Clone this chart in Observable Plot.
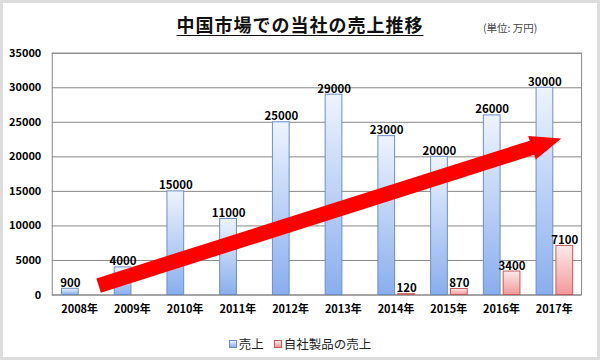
<!DOCTYPE html>
<html>
<head>
<meta charset="utf-8">
<script src="https://cdn.jsdelivr.net/npm/d3@7"></script>
<script src="https://cdn.jsdelivr.net/npm/@observablehq/plot@0.6"></script>
<style>
  html, body { margin: 0; padding: 0; background: #fff; }
  #wrap { position: relative; width: 600px; height: 360px; box-sizing: border-box; border: 3px solid #dcdcdc; overflow: hidden; font-family: "Noto Sans CJK JP", "Noto Sans", sans-serif; }
  #chart { position: absolute; left: -3px; top: -3px; }
  #title { position: absolute; left: -3px; width: 600px; top: 8px; text-align: center; font-size: 18px; font-weight: bold; letter-spacing: 1px; text-decoration: underline; text-underline-offset: 3px; color: #111; }
  #unit { position: absolute; left: 480px; top: 17px; font-size: 10.5px; color: #444; }
  #legend { position: absolute; left: -3px; width: 600px; top: 331px; text-align: center; font-size: 12.5px; color: #222; }
  .sw { display: inline-block; width: 6px; height: 6px; margin-right: 2px; vertical-align: 1px; }
  .item { margin: 0 5px; }
</style>
</head>
<body>
<div id="wrap">
  <div id="chart"></div>
  <div id="title">中国市場での当社の売上推移</div>
  <div id="unit">(単位: 万円)</div>
  <div id="legend"></div>
</div>
<script>
// ---- data ----
const years = ["2008年","2009年","2010年","2011年","2012年","2013年","2014年","2015年","2016年","2017年"];
const sales = [900, 4000, 15000, 11000, 25000, 29000, 23000, 20000, 26000, 30000];
const ownYears = ["2014年","2015年","2016年","2017年"];
const ownSales = [120, 870, 3400, 7100];
const yTicks = [0, 5000, 10000, 15000, 20000, 25000, 30000, 35000];
const seriesNames = ["売上", "自社製品の売上"];
// arrow annotation (data space: category, fraction within band, value)
const arrowFrom = {year: "2008年", frac: 0.87, value: 1300};
const arrowTo = {year: "2017年", frac: 0.645, value: 22600};

const salesData = years.map((y, i) => ({year: y, value: sales[i]}));
const ownData = ownYears.map((y, i) => ({year: y, value: ownSales[i]}));

const W = 600, H = 360, mL = 52, mR = 16, mT = 53, mB = 64;
const bw = (W - mL - mR) / years.length;
const blueL = 0.165, blueR = 0.485, pinkL = 0.54, pinkR = 0.86;

const svgNS = "http://www.w3.org/2000/svg";
function defsMark() {
  const defs = document.createElementNS(svgNS, "defs");
  const mk = (id, top, bottom) => {
    const g = document.createElementNS(svgNS, "linearGradient");
    g.setAttribute("id", id);
    g.setAttribute("x1", "0"); g.setAttribute("y1", "0");
    g.setAttribute("x2", "0"); g.setAttribute("y2", "1");
    [[0, top], [1, bottom]].forEach(([o, c]) => {
      const s = document.createElementNS(svgNS, "stop");
      s.setAttribute("offset", o);
      s.setAttribute("stop-color", c);
      g.appendChild(s);
    });
    defs.appendChild(g);
  };
  mk("gBlue", "#eef4fd", "#89aeee");
  mk("gPink", "#fdeaea", "#f39898");
  return defs;
}

function arrowMark(index, scales) {
  const x = scales.x, y = scales.y, b = x.bandwidth();
  const x0 = x(arrowFrom.year) + b * arrowFrom.frac, y0 = y(arrowFrom.value);
  const x1 = x(arrowTo.year) + b * arrowTo.frac, y1 = y(arrowTo.value);
  const len = Math.hypot(x1 - x0, y1 - y0);
  const ux = (x1 - x0) / len, uy = (y1 - y0) / len;
  const nx = -uy, ny = ux;
  const h = 7.5, Hh = 12.5, hl = 31;
  const bx = x1 - ux * hl, by = y1 - uy * hl;
  const pts = [
    [x0 + nx * h, y0 + ny * h],
    [bx + nx * h, by + ny * h],
    [bx + nx * Hh, by + ny * Hh],
    [x1, y1],
    [bx - nx * Hh, by - ny * Hh],
    [bx - nx * h, by - ny * h],
    [x0 - nx * h, y0 - ny * h]
  ];
  const p = document.createElementNS(svgNS, "polygon");
  p.setAttribute("points", pts.map(d => d.join(",")).join(" "));
  p.setAttribute("fill", "#ff0000");
  return p;
}

const chart = Plot.plot({
  width: W, height: H,
  marginLeft: mL, marginRight: mR, marginTop: mT, marginBottom: mB,
  style: {fontFamily: "'Noto Sans CJK JP', 'Noto Sans', sans-serif", fontSize: "11px", fontWeight: "bold", color: "#000", background: "transparent"},
  x: {domain: years, paddingInner: 0, paddingOuter: 0, tickSize: 0, tickPadding: 10, label: null},
  y: {domain: [0, 35000], ticks: yTicks, tickSize: 0, tickPadding: 11, label: null, tickFormat: d => String(d)},
  marks: [
    defsMark,
    Plot.ruleY(yTicks, {stroke: "#878787", strokeWidth: 1}),
    Plot.frame({stroke: "#878787"}),
    Plot.barY(salesData, {x: "year", y: "value", fill: "url(#gBlue)", stroke: "#6d8dc6", strokeWidth: 1,
      insetLeft: bw * blueL, insetRight: bw * (1 - blueR)}),
    Plot.barY(ownData, {x: "year", y: "value", fill: "url(#gPink)", stroke: "#c45a5a", strokeWidth: 1,
      insetLeft: bw * pinkL, insetRight: bw * (1 - pinkR)}),
    Plot.text(salesData, {x: "year", y: "value", text: d => String(d.value), dx: bw * ((blueL + blueR) / 2 - 0.5),
      lineAnchor: "bottom", dy: -2, fontSize: 11.5, fontWeight: "bold", fill: "#000"}),
    Plot.text(ownData, {x: "year", y: "value", text: d => String(d.value), dx: bw * ((pinkL + pinkR) / 2 - 0.5),
      lineAnchor: "bottom", dy: -2, fontSize: 11.5, fontWeight: "bold", fill: "#000"}),
    arrowMark
  ]
});
document.getElementById("chart").appendChild(chart);

const legend = document.getElementById("legend");
const swStyles = [
  "background: linear-gradient(#eef4fd, #89aeee); border: 1px solid #6d8dc6;",
  "background: linear-gradient(#fdeaea, #f39898); border: 1px solid #c45a5a;"
];
seriesNames.forEach((n, i) => {
  const s = document.createElement("span");
  s.className = "item";
  s.innerHTML = `<span class="sw" style="${swStyles[i]}"></span>${n}`;
  legend.appendChild(s);
});
</script>
</body>
</html>
